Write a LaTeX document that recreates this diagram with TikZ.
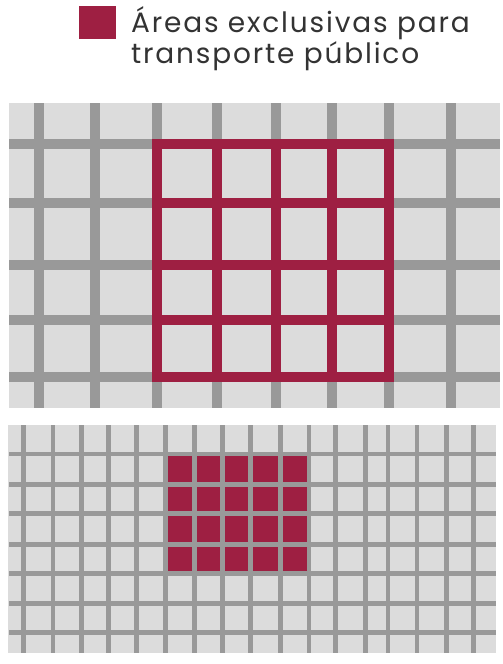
\documentclass[tikz,border=0pt]{standalone}
\usepackage{fontspec}
\setmainfont{Poppins}
\newfontfamily\keyfont[LetterSpace=6.5]{Poppins}
\usepackage{tikz}
\usetikzlibrary{positioning}
\definecolor{busred}{HTML}{9E1F42}
\definecolor{streetgray}{HTML}{999999}
\definecolor{blockgray}{HTML}{DCDCDC}
\definecolor{labelgray}{HTML}{333333}
\tikzset{
  block/.style={fill=blockgray},
  street/.style={draw=streetgray,line width=10pt},
  thin street/.style={draw=streetgray,line width=4.7pt},
  busway/.style={draw=busred,line width=10pt,line cap=rect},
  legend text/.style={font=\keyfont\fontsize{28}{31}\selectfont,text=labelgray,inner sep=0pt,anchor=base west}
}

\begin{document}
\begin{tikzpicture}[x=1pt,y=-1pt]
  \useasboundingbox (0,0) rectangle (503,664);

  % legend
  \node[fill=busred,minimum width=37pt,minimum height=33pt,inner sep=0pt,anchor=north west] (key) at (79,6) {};
  \node[legend text] (keyline1) at (131,32) {Áreas exclusivas para};
  \node[legend text] (keyline2) at (131,63) {transporte público};

  % upper map: wide streets
  \fill[block] (9,103) rectangle (500,408);
  \foreach \x in {38.5,95,157,216.5,276,332,389,451} {\draw[street] (\x,103) -- (\x,408);}
  \foreach \y in {144,203,265,320,377} {\draw[street] (9,\y) -- (500,\y);}
  \foreach \x in {157,216.5,276,332,389} {\draw[busway] (\x,144) -- (\x,377);}
  \foreach \y in {144,203,265,320,377} {\draw[busway] (157,\y) -- (389,\y);}

  % lower map: dense streets
  \fill[block] (8,425) rectangle (496,653);
  \fill[busred] (165.8,454) rectangle (309,573.3);
  \foreach \x in {23.3,53,81.3,108.3,136.3,165.8,194.8,222.5,250.3,280.3,309,335.8,365.5,388,417,446.5,473.5}
    {\draw[thin street] (\x,425) -- (\x,653);}
  \foreach \y in {454,484.3,513.8,544.2,573.3,603.3,632.3}
    {\draw[thin street] (9,\y) -- (496,\y);}
\end{tikzpicture}
\end{document}
